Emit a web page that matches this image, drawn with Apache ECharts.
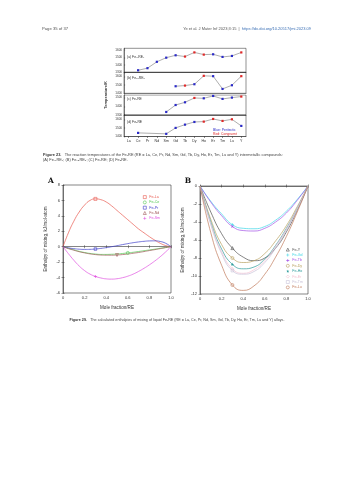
<!DOCTYPE html>
<html>
<head>
<meta charset="utf-8">
<script src="https://cdn.jsdelivr.net/npm/echarts@6/dist/echarts.min.js"></script>
<style>
  html, body { margin: 0; padding: 0; background: #fff; }
  #main { width: 353px; height: 480px; }
</style>
</head>
<body>
<div id="main"></div>
<script>
// ---- Figure 23 data ----
var rareEarths = ['La','Ce','Pr','Nd','Sm','Gd','Tb','Dy','Ho','Er','Tm','Lu','Y'];
// P = peritectic (blue), C = congruent (red)
var tFe17RE2 = [null,1327,1355,1440,1495,1527,1510,1565,1536,1540,1505,1518,1565];
var kFe17RE2 = ['', 'P','P','P','P','P','C','C','C','P','P','P','C'];
var tFe23RE6 = [null,null,null,null,null,1484,1492,1508,1608,1604,1452,1496,1604];
var kFe23RE6 = ['', '', '', '', '', 'P','C','P','C','P','P','P','C'];
var tFe2RE   = [null,null,null,null,1335,1415,1446,1496,1492,1519,1485,1500,1512];
var kFe2RE   = ['', '', '', '', 'P','P','P','C','P','P','P','P','C'];
var tFe3RE   = [null,1442,null,null,1431,1500,1538,1569,1573,1604,1581,1600,1523];
var kFe3RE   = ['', 'P','', '', 'P','P','P','P','C','C','C','C','P'];

// ---- Figure 29 data ----
var moleA = [0,0.05,0.1,0.15,0.2,0.25,0.3,0.35,0.4,0.45,0.5,0.55,0.6,0.65,0.7,0.75,0.8,0.85,0.9,0.95,1];
var hFeLa = [0,1.8,3.3,4.5,5.4,6.0,6.2,6.1,5.8,5.3,4.7,4.1,3.5,2.9,2.3,1.8,1.3,0.85,0.45,0.15,0];
var hFeCe = [0,-0.2,-0.4,-0.6,-0.75,-0.87,-0.95,-1.0,-1.0,-0.98,-0.95,-0.88,-0.8,-0.72,-0.62,-0.52,-0.42,-0.32,-0.2,-0.1,0];
var hFePr = [0,-0.15,-0.25,-0.32,-0.35,-0.34,-0.3,-0.22,-0.12,0,0.13,0.27,0.4,0.52,0.62,0.7,0.75,0.76,0.68,0.45,0];
var hFeNd = [0,-0.25,-0.45,-0.65,-0.8,-0.93,-1.02,-1.08,-1.1,-1.1,-1.08,-1.02,-0.95,-0.85,-0.75,-0.63,-0.5,-0.38,-0.25,-0.12,0];
var hFeSm = [0,-0.9,-1.75,-2.5,-3.1,-3.55,-3.85,-4.05,-4.17,-4.2,-4.15,-4.02,-3.82,-3.55,-3.2,-2.8,-2.35,-1.85,-1.3,-0.68,0];

var moleB = [0,0.1,0.2,0.3,0.4,0.5,0.6,0.7,0.8,0.9,1];
var hFeY  = [0,-2.9,-5.3,-6.9,-7.9,-8.3,-8.0,-6.9,-5.1,-2.7,0];
var hFeGd = [0,-1.7,-3.1,-4.3,-4.7,-4.75,-4.5,-3.8,-2.8,-1.5,0];
var hFeTb = [0,-1.8,-3.3,-4.5,-4.95,-5.0,-4.7,-4.0,-3.0,-1.6,0];
var hFeDy = [0,-3.7,-6.5,-8.0,-8.5,-8.3,-7.5,-6.1,-4.4,-2.3,0];
var hFeHo = [0,-4.0,-7.0,-8.7,-9.2,-9.0,-8.1,-6.6,-4.7,-2.5,0];
var hFeEr = [0,-4.2,-7.3,-9.2,-9.7,-9.3,-8.3,-6.7,-4.8,-2.5,0];
var hFeTm = [0,-4.3,-7.5,-9.4,-9.8,-9.5,-8.5,-6.9,-4.9,-2.6,0];
var hFeLu = [0,-5.2,-8.8,-11.0,-11.6,-11.1,-9.8,-7.9,-5.6,-2.9,0];

var chart = echarts.init(document.getElementById('main'));

var BLUE = '#2a2ac8', RED = '#e02828';
var plus = 'path://M4,0h2v4h4v2h-4v4h-2v-4h-4v-2h4z';
var star = 'path://M5,0L6.2,3.8L10,3.8L7,6.2L8.1,10L5,7.6L1.9,10L3,6.2L0,3.8L3.8,3.8Z';
// these shapes are drawn hollow
var HOLLOW = { rect: 1, circle: 1, triangle: 1, diamond: 1 };

// figure 23 panels
var panels = [
  { t: tFe17RE2, k: kFe17RE2, top: 48.3, h: 24, min: 1300, max: 1620, label: '(a) Fe₁₇RE₂', ly: 57 },
  { t: tFe23RE6, k: kFe23RE6, top: 72.3, h: 21, min: 1400, max: 1650, label: '(b) Fe₂₃RE₆', ly: 78.5 },
  { t: tFe2RE,   k: kFe2RE,   top: 95,   h: 20, min: 1300, max: 1530, label: '(c) Fe₂RE',   ly: 99.5 },
  { t: tFe3RE,   k: kFe3RE,   top: 115,  h: 21.5, min: 1400, max: 1650, label: '(d) Fe₃RE', ly: 122 }
];

var grids = [], xAxes = [], yAxes = [], series = [];
var gfx = [];

panels.forEach(function (p, i) {
  grids.push({ left: 124, width: 122, top: p.top, height: p.h, show: true, borderColor: '#222', borderWidth: 0.5 });
  xAxes.push({
    type: 'category', gridIndex: i, data: rareEarths, boundaryGap: true,
    axisLine: { lineStyle: { color: '#222', width: 0.5 } },
    axisTick: { show: i === 3, alignWithLabel: true, length: 1.5, lineStyle: { width: 0.5 } },
    axisLabel: { show: i === 3, fontSize: 3.6, color: '#333', margin: 2 }
  });
  yAxes.push({
    type: 'value', gridIndex: i, min: p.min, max: p.max, interval: 100,
    axisLine: { show: true, lineStyle: { color: '#222', width: 0.5 } },
    axisTick: { show: true, inside: true, length: 1.2, lineStyle: { width: 0.4 } },
    axisLabel: { fontSize: 3, color: '#333', margin: 2, showMaxLabel: false, formatter: function (v) { return String(v); } },
    splitLine: { show: false }
  });
  series.push({
    type: 'line', xAxisIndex: i, yAxisIndex: i, connectNulls: true,
    symbol: 'rect', symbolSize: 2.2,
    lineStyle: { color: '#777', width: 0.6 },
    data: p.t.map(function (v, j) {
      if (v == null) return null;
      return { value: v, itemStyle: { color: p.k[j] === 'C' ? RED : BLUE, borderWidth: 0 } };
    })
  });
  gfx.push({ type: 'text', style: { x: 127, y: p.ly, text: p.label, fontSize: 3.4, fill: '#333', verticalAlign: 'middle' } });
});

gfx.push({ type: 'rect', shape: { x: 124, y: 93.3, width: 122, height: 1.7 }, style: { fill: '#dcdcdc' } });
gfx.push({ type: 'text', style: { x: 213, y: 130.5, text: 'Blue: Peritectic', fontSize: 3.4, fill: BLUE, verticalAlign: 'middle' } });
gfx.push({ type: 'text', style: { x: 213, y: 134.5, text: 'Red: Congruent', fontSize: 3.4, fill: RED, verticalAlign: 'middle' } });
gfx.push({ type: 'text', rotation: Math.PI / 2, x: 106, y: 95, style: { x: 0, y: 0, text: 'Temperature/K', fontSize: 4, fontWeight: 'bold', fill: '#333', align: 'center', verticalAlign: 'middle' } });

function markStyle(sym, color) {
  return HOLLOW[sym]
    ? { color: 'rgba(255,255,255,0)', borderColor: color, borderWidth: 0.6 }
    : { color: color, borderWidth: 0 };
}

// figure 29 helpers
function curve(name, xs, ys, color, markIdx, sym, size, rot) {
  return {
    name: name, type: 'line', smooth: true, symbol: 'none',
    xAxisIndex: xAxes.length - 2, yAxisIndex: yAxes.length - 2,
    lineStyle: { color: color, width: 0.7 },
    itemStyle: { color: color },
    data: xs.map(function (x, j) {
      var d = { value: [x, ys[j]] };
      if (j === markIdx) {
        d.symbol = sym; d.symbolSize = size; d.symbolRotate = rot || 0;
        d.itemStyle = markStyle(sym, color);
      }
      return d;
    })
  };
}

function addPanel(left, top, yMin, yMax, yName) {
  var gi = grids.length;
  grids.push({ left: left, width: 108, top: top, height: 108, show: true, borderColor: '#333', borderWidth: 0.6 });
  xAxes.push({
    type: 'value', gridIndex: gi, min: 0, max: 1, interval: 0.2,
    name: 'Mole fraction/RE', nameLocation: 'middle', nameGap: 12,
    nameTextStyle: { fontSize: 4.6, color: '#333' },
    axisLine: { lineStyle: { color: '#333', width: 0.6 } },
    axisTick: { inside: true, length: 1.5, lineStyle: { width: 0.5 } },
    axisLabel: { fontSize: 4, color: '#333', margin: 3, formatter: function (v) { return v === 0 ? '0' : v.toFixed(1); } },
    splitLine: { show: false }
  });
  yAxes.push({
    type: 'value', gridIndex: gi, min: yMin, max: yMax, interval: 2,
    name: yName, nameLocation: 'middle', nameGap: 15,
    nameTextStyle: { fontSize: 4.6, color: '#333' },
    axisLine: { show: true, lineStyle: { color: '#333', width: 0.6 } },
    axisTick: { inside: true, length: 1.5, lineStyle: { width: 0.5 } },
    axisLabel: { fontSize: 4, color: '#333', margin: 3 },
    splitLine: { show: false }
  });
  // mirrored ticks on top and right
  xAxes.push({ type: 'value', gridIndex: gi, position: 'top', min: 0, max: 1, interval: 0.2,
    axisLine: { show: false }, axisTick: { inside: true, length: 1.5, lineStyle: { width: 0.5, color: '#333' } },
    axisLabel: { show: false }, splitLine: { show: false } });
  yAxes.push({ type: 'value', gridIndex: gi, position: 'right', min: yMin, max: yMax, interval: 2,
    axisLine: { show: false }, axisTick: { show: true, inside: true, length: 1.5, lineStyle: { width: 0.5, color: '#333' } },
    axisLabel: { show: false }, splitLine: { show: false } });
}

var yName = 'Enthalpy of mixing, kJ/mol-atom';

// chart A
addPanel(63, 185, -6, 8, yName);
var colA = { 'Fe-La': '#e8584e', 'Fe-Ce': '#52c852', 'Fe-Pr': '#3c3cc8', 'Fe-Nd': '#a05a5a', 'Fe-Sm': '#e050e0' };
series.push(curve('Fe-La', moleA, hFeLa, colA['Fe-La'], 6, 'rect', 3));
series.push(curve('Fe-Ce', moleA, hFeCe, colA['Fe-Ce'], 12, 'circle', 3));
series.push(curve('Fe-Pr', moleA, hFePr, colA['Fe-Pr'], 6, 'rect', 2.6));
series.push(curve('Fe-Nd', moleA, hFeNd, colA['Fe-Nd'], 10, 'triangle', 3, 180));
series.push(curve('Fe-Sm', moleA, hFeSm, colA['Fe-Sm'], 6, plus, 3));

// chart B
addPanel(200, 186, -12, 0, yName);
var colB = { 'Fe-Y': '#505050', 'Fe-Gd': '#3ed6e6', 'Fe-Tb': '#a452e6', 'Fe-Dy': '#b8a060', 'Fe-Ho': '#2a9a9a',
             'Fe-Er': '#f4c2d2', 'Fe-Tm': '#c8c2d8', 'Fe-Lu': '#c07a5a' };
series.push(curve('Fe-Y',  moleB, hFeY,  colB['Fe-Y'],  3, 'triangle', 3));
series.push(curve('Fe-Gd', moleB, hFeGd, colB['Fe-Gd'], 3, plus, 3));
series.push(curve('Fe-Tb', moleB, hFeTb, colB['Fe-Tb'], 3, plus, 3, 45));
series.push(curve('Fe-Dy', moleB, hFeDy, colB['Fe-Dy'], 3, 'circle', 3));
series.push(curve('Fe-Ho', moleB, hFeHo, colB['Fe-Ho'], 3, star, 3.5));
series.push(curve('Fe-Er', moleB, hFeEr, colB['Fe-Er'], 3, 'diamond', 3));
series.push(curve('Fe-Tm', moleB, hFeTm, colB['Fe-Tm'], 3, 'rect', 2.6));
series.push(curve('Fe-Lu', moleB, hFeLu, colB['Fe-Lu'], 3, 'circle', 3));

function legendItems(names, cols, icons) {
  return names.map(function (n, i) {
    return { name: n, icon: icons[i], textStyle: { color: cols[n] }, itemStyle: markStyle(icons[i], cols[n]) };
  });
}

var legendA = {
  orient: 'vertical', left: 143, top: 195, padding: 0, itemWidth: 3, itemHeight: 3, itemGap: 1.1,
  textStyle: { fontSize: 3.6, lineHeight: 4.2, padding: [0, 0, 0, -2] },
  data: legendItems(['Fe-La','Fe-Ce','Fe-Pr','Fe-Nd','Fe-Sm'], colA,
    ['rect','circle','rect','triangle', plus])
};
var legendB = {
  orient: 'vertical', left: 286, top: 247.5, padding: 0, itemWidth: 3, itemHeight: 3, itemGap: 1.2,
  textStyle: { fontSize: 3.6, lineHeight: 4.2, padding: [0, 0, 0, -2] },
  data: legendItems(['Fe-Y','Fe-Gd','Fe-Tb','Fe-Dy','Fe-Ho','Fe-Er','Fe-Tm','Fe-Lu'], colB,
    ['triangle', plus, plus, 'circle', star, 'diamond', 'rect', 'circle'])
};

// page texts
var F = 'Liberation Sans, Arial, sans-serif';
gfx.push({ type: 'text', style: { x: 42, y: 29, text: 'Page 35 of 37', fontSize: 4.2, fill: '#555', fontFamily: F, verticalAlign: 'middle' } });
gfx.push({ type: 'text', style: { x: 311, y: 29, align: 'right', verticalAlign: 'middle', fontFamily: F,
  text: '{a|Ye et al. J Mater Inf 2023;3:15  |  }{b|https://dx.doi.org/10.20517/jmi.2023.09}',
  rich: { a: { fontSize: 4, fill: '#555' }, b: { fontSize: 4, fill: '#3a6fb5' } } } });
gfx.push({ type: 'text', style: { x: 43, y: 155, verticalAlign: 'middle', fontFamily: F,
  text: '{b|Figure 23.} {a|The reaction temperatures of the Fe-RE (RE = La, Ce, Pr, Nd, Sm, Gd, Tb, Dy, Ho, Er, Tm, Lu and Y) intermetallic compounds:}',
  rich: { a: { fontSize: 3.9, fill: '#444' }, b: { fontSize: 3.9, fill: '#333', fontWeight: 'bold' } } } });
gfx.push({ type: 'text', style: { x: 43, y: 160, verticalAlign: 'middle', fontFamily: F,
  text: '(A) Fe₁₇RE₂; (B) Fe₂₃RE₆; (C) Fe₂RE; (D) Fe₃RE.', fontSize: 3.9, fill: '#444' } });
gfx.push({ type: 'text', style: { x: 177, y: 320, align: 'center', verticalAlign: 'middle', fontFamily: F,
  text: '{b|Figure 29.} {a|The calculated enthalpies of mixing of liquid Fe-RE (RE = La, Ce, Pr, Nd, Sm, Gd, Tb, Dy, Ho, Er, Tm, Lu and Y) alloys.}',
  rich: { a: { fontSize: 3.7, fill: '#444' }, b: { fontSize: 3.7, fill: '#333', fontWeight: 'bold' } } } });
gfx.push({ type: 'text', style: { x: 51, y: 181, text: 'A', fontSize: 7.5, fontWeight: 'bold', fontFamily: 'DejaVu Serif, serif', fill: '#111', align: 'center', verticalAlign: 'middle' } });
gfx.push({ type: 'text', style: { x: 188, y: 181, text: 'B', fontSize: 7.5, fontWeight: 'bold', fontFamily: 'DejaVu Serif, serif', fill: '#111', align: 'center', verticalAlign: 'middle' } });

chart.setOption({
  animation: false,
  textStyle: { fontFamily: F },
  grid: grids,
  xAxis: xAxes,
  yAxis: yAxes,
  legend: [legendA, legendB],
  series: series,
  graphic: gfx
});
</script>
</body>
</html>
